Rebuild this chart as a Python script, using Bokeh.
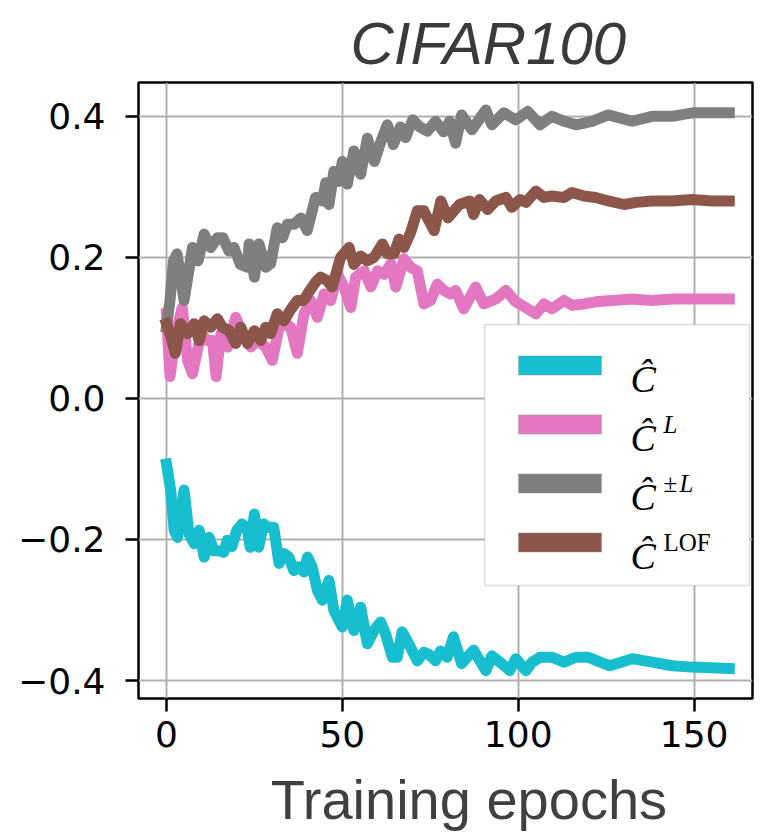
from bokeh.plotting import figure
from bokeh.models import Range1d, FixedTicker, Label, BoxAnnotation, ColumnDataSource, Title
from bokeh.embed import file_html
from bokeh.resources import INLINE

# ---------------- data ----------------
title_text = "CIFAR100"
xlabel_text = "Training epochs"
x_ticks = [0, 50, 100, 150]
y_ticks = [-0.4, -0.2, 0.0, 0.2, 0.4]
y_tick_labels = {-0.4: "\u22120.4", -0.2: "\u22120.2", 0.0: "0.0", 0.2: "0.2", 0.4: "0.4"}

colors = ["#17becf", "#e377c2", "#7f7f7f", "#8c564b"]
legend_sup = ["", "L", "\u00b1L", "LOF"]

epochs_c = [0, 1.2, 2.2, 3.1, 5, 6.4, 7.9, 9.3, 10.7, 12.1, 13.5, 14.9, 16.3, 17.3, 18.6, 20, 21.5, 22.9,
            23.8, 25, 26.2, 27.6, 29.1, 30.5, 32, 33.4, 34.8, 36.2, 37.6, 39.1, 40.1, 41.4, 42.9, 44.3,
            46.2, 47.6, 50, 51.4, 53.3, 55.2, 57.1, 59, 60.9, 62.3, 64.2, 65.6, 67, 68.9, 71.3, 73.2,
            74.6, 76.5, 77.9, 79.8, 81.6, 83.9, 87.3, 90.8, 92.5, 95.3, 97.6, 99.3, 102.2, 103.9, 106.2,
            109.6, 113, 116.4, 119.9, 123.3, 126.1, 132.4, 138, 143.8, 149.5, 155, 160]
c_hat = [-0.093, -0.13, -0.187, -0.197, -0.13, -0.192, -0.206, -0.187, -0.225, -0.197, -0.216, -0.216,
         -0.218, -0.201, -0.21, -0.187, -0.178, -0.183, -0.211, -0.164, -0.211, -0.178, -0.183, -0.183,
         -0.234, -0.22, -0.225, -0.244, -0.239, -0.246, -0.225, -0.239, -0.272, -0.286, -0.258, -0.301,
         -0.324, -0.286, -0.329, -0.296, -0.348, -0.329, -0.317, -0.334, -0.367, -0.367, -0.331, -0.348,
         -0.372, -0.36, -0.363, -0.372, -0.358, -0.367, -0.338, -0.376, -0.357, -0.386, -0.365, -0.376,
         -0.386, -0.369, -0.386, -0.374, -0.367, -0.367, -0.374, -0.367, -0.367, -0.374, -0.379, -0.369,
         -0.374, -0.379, -0.381, -0.382, -0.383]

epochs_l = [0, 1, 2.6, 4.5, 6, 7.4, 9.8, 11.7, 13.1, 14.1, 15.5, 17.4, 19.7, 21.6, 24, 25.9, 28.2, 30.1,
            32, 33.9, 35.3, 37.2, 39.1, 41, 42.9, 44.8, 46.7, 48.6, 50.5, 52.4, 53.8, 56.2, 58.1, 60,
            61.9, 63.8, 65.2, 67.5, 69.4, 71.3, 73.2, 75.1, 77, 78.9, 80.8, 82.2, 84.5, 87.9, 90.2, 93.6,
            96.5, 99.3, 102.7, 105, 107.3, 109.6, 113, 115.3, 118.7, 122, 126.7, 132.4, 138, 143.8,
            149.5, 155, 160]
c_hat_l = [0.12, 0.031, 0.092, 0.129, 0.054, 0.035, 0.092, 0.082, 0.082, 0.031, 0.092, 0.073, 0.115,
           0.092, 0.073, 0.082, 0.073, 0.054, 0.101, 0.106, 0.101, 0.064, 0.12, 0.139, 0.115, 0.148,
           0.139, 0.176, 0.158, 0.129, 0.172, 0.181, 0.158, 0.181, 0.176, 0.191, 0.158, 0.198, 0.186,
           0.181, 0.134, 0.139, 0.162, 0.153, 0.148, 0.153, 0.127, 0.158, 0.134, 0.141, 0.153, 0.137,
           0.127, 0.12, 0.134, 0.127, 0.139, 0.132, 0.134, 0.137, 0.139, 0.141, 0.139, 0.141, 0.141,
           0.141, 0.141]

epochs_pm = [0, 1, 2, 3, 5, 7.4, 9, 10.7, 12.6, 14.5, 16, 17.8, 19.2, 21, 23, 23.5, 25, 26.3, 28.2,
             29.6, 31.5, 33, 34.4, 36.3, 38.2, 40, 42.4, 44.3, 45.3, 46.2, 47.6, 49, 50, 51.4, 53.3,
             55.2, 57.1, 59.1, 61, 62.8, 64.5, 66.5, 68, 70, 72, 74.2, 76.5, 78.8, 80.5, 82.2, 83.9,
             86.8, 90.8, 92.5, 95.9, 99.3, 102.7, 106.2, 109.6, 113, 116.4, 121, 125.6, 132.4, 138,
             143.8, 149.5, 155, 160]
c_hat_pm = [0.101, 0.139, 0.195, 0.205, 0.139, 0.214, 0.195, 0.233, 0.214, 0.228, 0.228, 0.209, 0.214,
            0.19, 0.186, 0.219, 0.172, 0.219, 0.186, 0.191, 0.242, 0.228, 0.247, 0.247, 0.256, 0.238,
            0.285, 0.28, 0.306, 0.275, 0.322, 0.308, 0.336, 0.304, 0.351, 0.318, 0.369, 0.336, 0.365,
            0.388, 0.36, 0.385, 0.37, 0.395, 0.385, 0.379, 0.393, 0.378, 0.393, 0.362, 0.402, 0.381,
            0.409, 0.388, 0.405, 0.395, 0.407, 0.388, 0.4, 0.393, 0.388, 0.393, 0.402, 0.393, 0.4, 0.4,
            0.405, 0.405, 0.405]

epochs_lof = [0, 1, 2.5, 4, 6, 7.9, 9.3, 10.7, 12.6, 14.5, 15.9, 17.8, 19.7, 21.1, 23, 25, 26.8, 28.2,
              29.6, 31.5, 33.4, 35.2, 37.2, 39, 40.5, 42.4, 43.8, 45.7, 47.1, 49.5, 51.9, 53.3, 55.2,
              57.1, 59, 61.4, 62.8, 64.7, 66.1, 67.5, 69.4, 71.3, 73.2, 74.6, 76.1, 78, 80, 83.3, 86.2,
              87.3, 89, 91.3, 93.6, 96.5, 98.2, 100.5, 102.2, 105, 107.3, 109.6, 113, 115.3, 118.7, 122,
              125.6, 130.1, 133.6, 138, 143.8, 149.5, 155, 160]
c_hat_lof = [0.106, 0.092, 0.064, 0.106, 0.092, 0.106, 0.082, 0.11, 0.101, 0.113, 0.101, 0.096, 0.078,
             0.101, 0.078, 0.096, 0.082, 0.101, 0.092, 0.12, 0.11, 0.125, 0.139, 0.139, 0.151, 0.165,
             0.172, 0.167, 0.158, 0.2, 0.214, 0.19, 0.202, 0.195, 0.2, 0.219, 0.205, 0.205, 0.226, 0.214,
             0.235, 0.266, 0.266, 0.252, 0.238, 0.28, 0.256, 0.275, 0.28, 0.261, 0.282, 0.268, 0.28,
             0.285, 0.271, 0.282, 0.278, 0.294, 0.285, 0.287, 0.285, 0.292, 0.287, 0.285, 0.28, 0.275,
             0.278, 0.28, 0.28, 0.282, 0.28, 0.28]

series_x = [epochs_c, epochs_l, epochs_pm, epochs_lof]
series_y = [c_hat, c_hat_l, c_hat_pm, c_hat_lof]

# ---------------- layout ----------------
X0, X1 = -7.95, 166.6
Y0, Y1 = -0.4255, 0.448
W, H = 760, 834
BL, BR, BT, BB = 138, 8, 82, 136
FL, FR, FT, FB = BL, W - BR, BT, H - BB


def sx(px):
    return X0 + (px - FL) / (FR - FL) * (X1 - X0)


def sy(py):
    return Y1 - (py - FT) / (FB - FT) * (Y1 - Y0)


p = figure(width=W, height=H, output_backend="svg", toolbar_location=None,
           x_range=Range1d(X0, X1), y_range=Range1d(Y0, Y1),
           min_border_left=BL, min_border_right=BR, min_border_top=BT, min_border_bottom=BB)
p.background_fill_color = "white"
p.border_fill_color = "white"
p.outline_line_color = "black"
p.outline_line_width = 2.5

p.title = Title(text=title_text, text_font="Liberation Sans", text_font_style="italic",
                text_font_size="60px", text_color="#3a3a3a", align="left", offset=212,
                standoff=11)

for ax in (p.xaxis[0], p.yaxis[0]):
    ax.axis_line_color = None
    ax.major_tick_line_color = "black"
    ax.major_tick_line_width = 2.5
    ax.major_tick_out = 13
    ax.major_tick_in = 0
    ax.minor_tick_line_color = None
    ax.major_label_text_font = "DejaVu Sans"
    ax.major_label_text_font_size = "36px"
    ax.major_label_text_color = "black"

p.xaxis[0].ticker = FixedTicker(ticks=x_ticks)
p.yaxis[0].ticker = FixedTicker(ticks=y_ticks)
p.yaxis[0].major_label_overrides = y_tick_labels
p.xaxis[0].major_label_standoff = 9
p.yaxis[0].major_label_standoff = 20

# x-axis label; leading no-break spaces move its centre to the right like the reference
p.xaxis[0].axis_label = "\u00a0\u00a0\u00a0" + xlabel_text
p.xaxis[0].axis_label_text_font = "Liberation Sans"
p.xaxis[0].axis_label_text_font_style = "normal"
p.xaxis[0].axis_label_text_font_size = "56px"
p.xaxis[0].axis_label_text_color = "#404040"
p.xaxis[0].axis_label_standoff = 18

for g in (p.xgrid[0], p.ygrid[0]):
    g.grid_line_color = "#b0b0b0"
    g.grid_line_width = 2

for xs, ys, c in zip(series_x, series_y, colors):
    src = ColumnDataSource(dict(x=xs, y=ys))
    p.line("x", "y", source=src, line_color=c, line_width=11,
           line_join="round", line_cap="square")

# legend (drawn by hand so the math-style labels can be set)
p.add_layout(BoxAnnotation(left=sx(484), right=sx(749), top=sy(324), bottom=sy(585),
                           fill_color="white", fill_alpha=1.0, line_color="#8a8a8a",
                           line_width=1.5))
bases = [378, 437, 496, 555]
for i, (c, sup) in enumerate(zip(colors, legend_sup)):
    yc = bases[i] - 13
    p.add_layout(BoxAnnotation(left=sx(518), right=sx(601), top=sy(yc - 9.5), bottom=sy(yc + 9.5),
                               fill_color=c, fill_alpha=1.0, line_color="#8a8a8a", line_width=1.5))
    p.add_layout(Label(x=sx(630), y=sy(bases[i]), text="\u0108", text_font="Liberation Serif",
                       text_font_style="italic", text_font_size="38px", text_color="black",
                       text_baseline="alphabetic"))
    by = sy(bases[i] - 13)
    if sup == "L":
        p.add_layout(Label(x=sx(663), y=by, text="L", text_font="Liberation Serif",
                           text_font_style="italic", text_font_size="25px", text_color="black",
                           text_baseline="alphabetic"))
    elif sup == "\u00b1L":
        p.add_layout(Label(x=sx(663), y=by, text="\u00b1", text_font="Liberation Serif",
                           text_font_size="25px", text_color="black", text_baseline="alphabetic"))
        p.add_layout(Label(x=sx(679), y=by, text="L", text_font="Liberation Serif",
                           text_font_style="italic", text_font_size="25px", text_color="black",
                           text_baseline="alphabetic"))
    elif sup == "LOF":
        p.add_layout(Label(x=sx(663), y=by, text="LOF", text_font="Liberation Serif",
                           text_font_size="25px", text_color="black", text_baseline="alphabetic"))

open("out.html", "w").write(file_html(p, INLINE))
